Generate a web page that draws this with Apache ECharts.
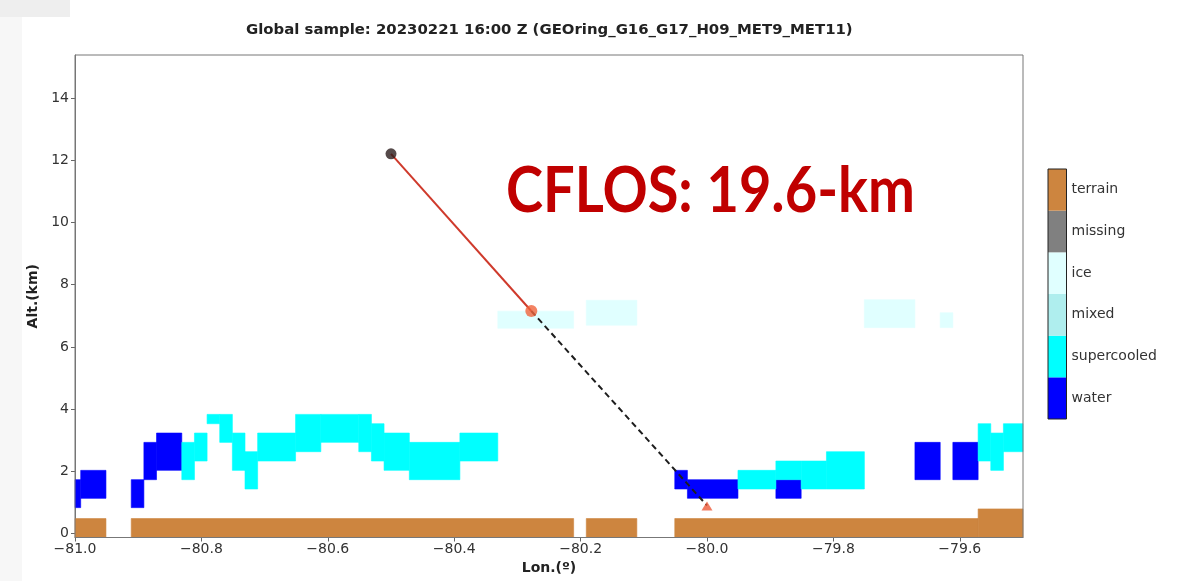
<!DOCTYPE html>
<html><head><meta charset="utf-8">
<script src="https://cdn.jsdelivr.net/npm/echarts@6/dist/echarts.min.js"></script>
<style>html,body{margin:0;padding:0;background:#fff}#c{width:1179px;height:581px}</style>
</head><body><div id="c"></div>
<script>
const titleText = 'Global sample: 20230221 16:00 Z (GEOring_G16_G17_H09_MET9_MET11)';
const annotationText = 'CFLOS: 19.6-km';
const xTicks = [-81.0, -80.8, -80.6, -80.4, -80.2, -80.0, -79.8, -79.6];
const yTicks = [0, 2, 4, 6, 8, 10, 12, 14];
const legendCategories = ['water', 'supercooled', 'mixed', 'ice', 'missing', 'terrain'];
const categoryColors = ['#0000ff', '#00ffff', '#afeeee', '#e0ffff', '#808080', '#cd853f'];

// cells: [lonStart, lonEnd, altBottom, altTop]
const waterCells = [
  [-81.01, -80.991, 0.83, 1.73],
  [-80.991, -80.951, 1.13, 2.03],
  [-80.911, -80.891, 0.83, 1.73],
  [-80.891, -80.871, 1.73, 2.93],
  [-80.871, -80.831, 2.03, 3.23],
  [-80.051, -80.031, 1.43, 2.03],
  [-80.031, -79.951, 1.13, 1.73],
  [-79.891, -79.851, 1.13, 1.73],
  [-79.671, -79.631, 1.73, 2.93],
  [-79.611, -79.571, 1.73, 2.93]
];
const supercooledCells = [
  [-80.831, -80.811, 1.73, 2.93],
  [-80.811, -80.791, 2.33, 3.23],
  [-80.791, -80.771, 3.53, 3.83],
  [-80.771, -80.751, 2.93, 3.83],
  [-80.751, -80.731, 2.03, 3.23],
  [-80.731, -80.711, 1.43, 2.63],
  [-80.711, -80.651, 2.33, 3.23],
  [-80.651, -80.611, 2.63, 3.83],
  [-80.611, -80.551, 2.93, 3.83],
  [-80.551, -80.531, 2.63, 3.83],
  [-80.531, -80.511, 2.33, 3.53],
  [-80.511, -80.471, 2.03, 3.23],
  [-80.471, -80.391, 1.73, 2.93],
  [-80.391, -80.331, 2.33, 3.23],
  [-79.951, -79.891, 1.43, 2.03],
  [-79.891, -79.851, 1.73, 2.33],
  [-79.851, -79.811, 1.43, 2.33],
  [-79.811, -79.751, 1.43, 2.63],
  [-79.571, -79.551, 2.33, 3.53],
  [-79.551, -79.531, 2.03, 3.23],
  [-79.531, -79.49, 2.63, 3.53]
];
const iceCells = [
  [-80.331, -80.211, 6.6, 7.15],
  [-80.191, -80.111, 6.7, 7.5],
  [-79.751, -79.671, 6.62, 7.52],
  [-79.631, -79.611, 6.62, 7.1]
];
const terrainCells = [
  [-81.01, -80.951, -1, 0.48],
  [-80.911, -80.211, -1, 0.48],
  [-80.191, -80.111, -1, 0.48],
  [-80.051, -79.571, -1, 0.48],
  [-79.571, -79.49, -1, 0.79]
];
const viewLineAbove = [[-80.5, 12.21], [-80.278, 7.155]];
const viewLineBelow = [[-80.278, 7.155], [-80.0, 0.9]];
const satellitePoint = [-80.5, 12.21];
const cloudTopPoint = [-80.278, 7.155];
const groundPoint = [-80.0, 0.88];

const cellData = [];
[[waterCells, 0], [supercooledCells, 1], [iceCells, 3], [terrainCells, 5]].forEach(([arr, ci]) => {
  arr.forEach(c => cellData.push([c[0], c[1], c[2], c[3], ci]));
});

const minus = v => (v < 0 ? '\u2212' : '') + Math.abs(v).toFixed(1);
const tickFont = { fontFamily: 'DejaVu Sans', fontSize: 14, color: '#333' };

function renderCell(params, api) {
  const p0 = api.coord([api.value(0), api.value(3)]);
  const p1 = api.coord([api.value(1), api.value(2)]);
  const cs = params.coordSys;
  const rect = echarts.graphic.clipRectByRect(
    { x: p0[0], y: p0[1], width: p1[0] - p0[0], height: p1[1] - p0[1] },
    { x: cs.x, y: cs.y, width: cs.width, height: cs.height });
  if (!rect) return;
  const color = categoryColors[api.value(4)];
  return { type: 'rect', shape: rect, style: { fill: color, stroke: color, lineWidth: 0.6 } };
}

const chart = echarts.init(document.getElementById('c'));
chart.setOption({
  backgroundColor: '#ffffff',
  animation: false,
  title: {
    text: titleText, left: 246, top: 23, padding: 0,
    textStyle: { fontFamily: 'DejaVu Sans', fontWeight: 'bold', fontSize: 14.9, color: '#222' }
  },
  graphic: [
    { type: 'rect', left: 0, top: 0, shape: { width: 22, height: 581 }, style: { fill: '#f7f7f7' }, silent: true },
    { type: 'rect', left: 0, top: 0, shape: { width: 70, height: 17 }, style: { fill: '#eeeeee' }, silent: true },
    { type: 'text', x: 506, y: 159, z: 100, scaleX: 0.875, originX: 0, originY: 0,
      style: { text: annotationText, fill: '#c00000', font: 'bold 64px Lato', verticalAlign: 'top', align: 'left' } }
  ],
  grid: [
    { left: 75, right: 156, top: 55, bottom: 43.5, show: true, borderColor: '#777', borderWidth: 1, z: 5, backgroundColor: 'transparent' },
    { left: 1048, top: 169, width: 18.5, height: 250, show: true, borderColor: '#222', borderWidth: 1, z: 5, backgroundColor: 'transparent' }
  ],
  xAxis: [
    { type: 'value', gridIndex: 0, min: -81.0, max: -79.5,
      name: 'Lon.(º)', nameLocation: 'middle', nameGap: 22,
      nameTextStyle: { fontFamily: 'DejaVu Sans', fontWeight: 'bold', fontSize: 14, color: '#222' },
      axisLine: { show: true, onZero: false, lineStyle: { color: '#777', width: 1 } },
      axisTick: { show: true, length: 4, lineStyle: { color: '#666' }, customValues: xTicks },
      axisLabel: { ...tickFont, margin: 5, customValues: xTicks, formatter: v => minus(v) },
      splitLine: { show: false } },
    { type: 'value', gridIndex: 1, min: 0, max: 1, show: false }
  ],
  yAxis: [
    { type: 'value', gridIndex: 0, min: -0.13, max: 15.39,
      name: 'Alt.(km)', nameLocation: 'middle', nameGap: 26, nameRotate: 90,
      nameTextStyle: { fontFamily: 'DejaVu Sans', fontWeight: 'bold', fontSize: 14, color: '#222' },
      axisLine: { show: true, onZero: false, lineStyle: { color: '#777', width: 1 } },
      axisTick: { show: true, length: 4, lineStyle: { color: '#666' }, customValues: yTicks },
      axisLabel: { ...tickFont, margin: 6, customValues: yTicks, formatter: v => String(v) },
      splitLine: { show: false } },
    { type: 'category', gridIndex: 1, position: 'right', data: legendCategories,
      axisLine: { show: false },
      axisTick: { show: true, alignWithLabel: true, length: 4, lineStyle: { color: '#333' } },
      axisLabel: { ...tickFont, margin: 5 } }
  ],
  series: [
    { type: 'custom', xAxisIndex: 0, yAxisIndex: 0, renderItem: renderCell, data: cellData,
      encode: { x: [0, 1], y: [2, 3] }, silent: true, z: 1 },
    { type: 'line', xAxisIndex: 0, yAxisIndex: 0, data: viewLineAbove, symbol: 'none',
      lineStyle: { color: '#cf3a2c', width: 2 }, z: 3, silent: true },
    { type: 'line', xAxisIndex: 0, yAxisIndex: 0, data: viewLineBelow, symbol: 'none',
      lineStyle: { color: '#1e1e1e', width: 2, type: [6, 4] }, z: 3, silent: true },
    { type: 'scatter', xAxisIndex: 0, yAxisIndex: 0, data: [satellitePoint], symbol: 'circle', symbolSize: 11,
      itemStyle: { color: '#2b1d1d' }, z: 4, silent: true },
    { type: 'scatter', xAxisIndex: 0, yAxisIndex: 0, data: [cloudTopPoint], symbol: 'circle', symbolSize: 12,
      itemStyle: { color: '#f0643c' }, z: 4, silent: true },
    { type: 'scatter', xAxisIndex: 0, yAxisIndex: 0, data: [groundPoint], symbol: 'triangle', symbolSize: [11, 9],
      itemStyle: { color: '#ee5a3a' }, z: 4, silent: true },
    { type: 'bar', xAxisIndex: 1, yAxisIndex: 1, barCategoryGap: '0%', silent: true,
      data: legendCategories.map((c, i) => ({ value: 1, itemStyle: { color: categoryColors[i] } })) }
  ]
});
</script></body></html>
